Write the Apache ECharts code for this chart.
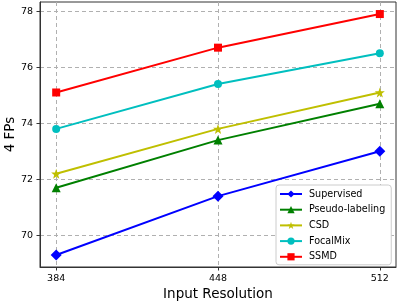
<!DOCTYPE html>
<html>
<head>
<meta charset="utf-8">
<script src="https://cdn.jsdelivr.net/npm/echarts@6/dist/echarts.min.js"></script>
<style>html,body{margin:0;padding:0;background:#fff;}#c{width:399px;height:302px;}</style>
</head>
<body>
<div id="c"></div>
<script>
const resolutions = [384, 448, 512];
const yTicks = [70, 72, 74, 76, 78];
const seriesNames = ['Supervised', 'Pseudo-labeling', 'CSD', 'FocalMix', 'SSMD'];
const supervised = [69.3, 71.4, 73.0];
const pseudoLabeling = [71.7, 73.4, 74.7];
const csd = [72.2, 73.8, 75.1];
const focalMix = [73.8, 75.4, 76.5];
const ssmd = [75.1, 76.7, 77.9];

const seriesValues = [supervised, pseudoLabeling, csd, focalMix, ssmd];
const colors = ['#0000ff', '#008000', '#bfbf00', '#00bfbf', '#ff0000'];
const symbols = ['diamond', 'triangle', 'path://M0,-10 L2.35,-3.24 L9.51,-3.09 L3.8,1.24 L5.88,8.09 L0,4 L-5.88,8.09 L-3.8,1.24 L-9.51,-3.09 L-2.35,-3.24 Z', 'circle', 'rect'];
const symbolSizes = [11, 9, 10, 8, 8];

const font = 'DejaVu Sans';
const chart = echarts.init(document.getElementById('c'), null, {renderer: 'canvas'});
const series = seriesNames.map((name, i) => ({
  name: name,
  type: 'line',
  data: resolutions.map((r, j) => [r, seriesValues[i][j]]),
  symbol: symbols[i],
  symbolSize: symbolSizes[i],
  showAllSymbol: true,
  lineStyle: {color: colors[i], width: 2},
  itemStyle: {color: colors[i]},
  emphasis: {disabled: true},
  animation: false
}));

chart.setOption({
  animation: false,
  grid: {left: 40, top: 2, right: 3, bottom: 35, show: true, borderColor: '#333', borderWidth: 1, containLabel: false, outerBoundsMode: 'none'},
  xAxis: {
    type: 'value', min: 377.6, max: 518.4,
    name: 'Input Resolution', nameLocation: 'middle', nameGap: 20, nameMoveOverlap: false,
    nameTextStyle: {fontFamily: font, fontSize: 13.5, color: '#000'},
    axisLine: {show: true, onZero: false, lineStyle: {color: '#333', width: 1}},
    axisTick: {show: true, inside: false, length: 3.5, customValues: resolutions, lineStyle: {color: '#333'}},
    axisLabel: {customValues: resolutions, fontFamily: font, fontSize: 9.5, color: '#000', margin: 7},
    splitLine: {show: true, lineStyle: {color: '#b0b0b0', type: [4, 3], width: 1}}
  },
  yAxis: {
    type: 'value', min: 68.87, max: 78.33,
    name: '4 FPs', nameLocation: 'middle', nameGap: 23, nameMoveOverlap: false,
    nameTextStyle: {fontFamily: font, fontSize: 13.5, color: '#000'},
    axisLine: {show: true, onZero: false, lineStyle: {color: '#333', width: 1}},
    axisTick: {show: true, inside: false, length: 3.5, customValues: yTicks, lineStyle: {color: '#333'}},
    axisLabel: {customValues: yTicks, fontFamily: font, fontSize: 9.5, color: '#000', margin: 7},
    splitLine: {show: true, lineStyle: {color: '#b0b0b0', type: [4, 3], width: 1}}
  },
  legend: {
    orient: 'vertical', left: 276, top: 185,
    data: seriesNames,
    padding: [4, 6, 3, 3],
    itemWidth: 22, itemHeight: 9, itemGap: 5.7,
    backgroundColor: '#fff', borderColor: '#ccc', borderWidth: 1, borderRadius: 3,
    textStyle: {fontFamily: font, fontSize: 9.6, color: '#000', padding: [0, 0, 0, 2]}
  },
  series: series
});
</script>
</body>
</html>
